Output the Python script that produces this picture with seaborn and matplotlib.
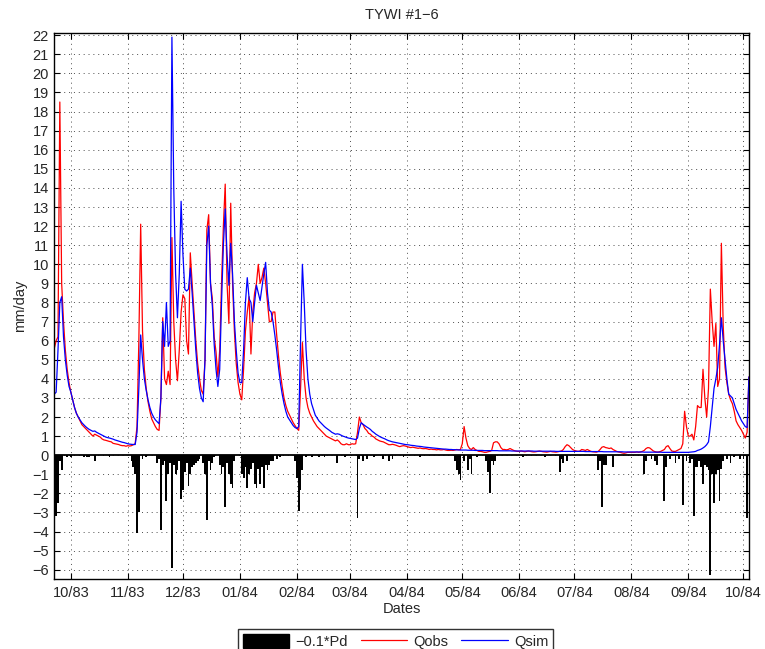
import pandas as pd
import seaborn as sns
import matplotlib
matplotlib.use("Agg")
import matplotlib.pyplot as plt
import matplotlib.dates as mdates
from matplotlib.patches import Patch
from matplotlib.lines import Line2D

# daily series start on 22 Sep 1983
START = "1983-09-22"

# observed flow (mm/day), one list per month
qobs_sep83 = [5.6, 6.0, 6.2, 18.5, 9.0, 7.0, 5.5, 4.5, 3.8]
qobs_oct83 = [3.3, 2.9, 2.5, 2.2, 2.0, 1.8, 1.6, 1.5, 1.4, 1.3,
              1.2, 1.1, 1.0, 1.1, 1.05, 1.0, 0.95, 0.85, 0.8, 0.78,
              0.75, 0.72, 0.7, 0.62, 0.6, 0.58, 0.56, 0.52, 0.5, 0.5, 0.47]
qobs_nov83 = [0.5, 0.48, 0.5, 0.55, 0.6, 1.5, 6.0, 12.1, 6.5, 4.5,
              3.5, 2.8, 2.3, 1.9, 1.7, 1.5, 1.35, 1.3, 3.0, 7.2,
              4.0, 3.7, 4.4, 3.7, 11.4, 7.0, 5.0, 3.9, 5.5, 7.5]
qobs_dec83 = [8.4, 8.2, 6.0, 5.3, 10.6, 9.0, 7.5, 6.0, 4.8, 4.0,
              3.4, 3.2, 5.0, 11.8, 12.6, 9.0, 8.2, 6.2, 5.4, 4.1,
              5.5, 9.0, 12.0, 14.2, 9.0, 6.9, 13.2, 9.0, 6.5, 4.8, 3.8]
qobs_jan84 = [3.2, 2.9, 4.5, 6.5, 7.5, 8.3, 5.3, 7.5, 8.5, 9.0,
              10.0, 9.0, 9.3, 9.8, 9.0, 8.0, 7.0, 7.0, 7.5, 7.5,
              6.3, 5.2, 4.3, 3.6, 3.0, 2.6, 2.3, 2.1, 1.9, 1.7, 1.55]
qobs_feb84 = [1.4, 1.3, 3.5, 5.9, 4.0, 3.0, 2.5, 2.2, 2.0, 1.8,
              1.65, 1.5, 1.4, 1.3, 1.2, 1.1, 1.0, 0.95, 0.9, 0.85,
              0.8, 0.75, 0.8, 0.72, 0.6, 0.55, 0.55, 0.6, 0.55]
qobs_mar84 = [0.55, 0.6, 0.58, 0.6, 1.2, 2.0, 1.7, 1.6, 1.4, 1.3,
              1.15, 1.1, 1.0, 0.95, 0.85, 0.8, 0.75, 0.72, 0.7, 0.65,
              0.6, 0.55, 0.55, 0.57, 0.55, 0.52, 0.48, 0.45, 0.48, 0.5, 0.48]
qobs_apr84 = [0.45, 0.42, 0.4, 0.42, 0.4, 0.38, 0.36, 0.38, 0.35, 0.34,
              0.35, 0.33, 0.3, 0.32, 0.3, 0.3, 0.28, 0.3, 0.28, 0.28,
              0.3, 0.27, 0.25, 0.25, 0.26, 0.25, 0.27, 0.3, 0.28, 0.3]
qobs_may84 = [0.6, 1.5, 0.9, 0.5, 0.35, 0.3, 0.4, 0.3, 0.25, 0.2,
              0.2, 0.18, 0.15, 0.15, 0.18, 0.2, 0.25, 0.65, 0.7, 0.7,
              0.6, 0.4, 0.3, 0.3, 0.28, 0.3, 0.35, 0.3, 0.25, 0.22, 0.2]
qobs_jun84 = [0.2, 0.22, 0.2, 0.18, 0.2, 0.22, 0.2, 0.18, 0.17, 0.18,
              0.2, 0.22, 0.2, 0.18, 0.17, 0.16, 0.18, 0.2, 0.18, 0.17,
              0.16, 0.18, 0.2, 0.22, 0.3, 0.45, 0.55, 0.5, 0.4, 0.3]
qobs_jul84 = [0.25, 0.22, 0.2, 0.22, 0.3, 0.28, 0.25, 0.3, 0.25, 0.2,
              0.18, 0.17, 0.16, 0.2, 0.3, 0.42, 0.45, 0.4, 0.38, 0.35,
              0.38, 0.3, 0.25, 0.2, 0.17, 0.15, 0.12, 0.1, 0.12, 0.15, 0.15]
qobs_aug84 = [0.15, 0.15, 0.15, 0.17, 0.15, 0.17, 0.2, 0.25, 0.35, 0.4,
              0.38, 0.3, 0.22, 0.18, 0.16, 0.17, 0.2, 0.25, 0.3, 0.45,
              0.5, 0.35, 0.22, 0.2, 0.2, 0.25, 0.3, 0.35, 0.6, 2.3, 1.5]
qobs_sep84 = [1.0, 1.0, 1.1, 0.8, 1.5, 2.6, 2.5, 2.5, 4.5, 3.0,
              2.0, 3.5, 8.7, 7.0, 5.7, 6.9, 3.6, 4.0, 11.1, 6.8,
              4.6, 3.8, 3.2, 2.9, 2.7, 2.3, 1.8, 1.6, 1.45, 1.3]
qobs_oct84 = [1.1, 0.9, 1.2, 4.1]

# simulated flow (mm/day)
qsim_sep83 = [3.2, 3.3, 5.5, 8.0, 8.3, 6.2, 5.0, 4.2, 3.6]
qsim_oct83 = [3.3, 2.9, 2.5, 2.2, 2.0, 1.85, 1.7, 1.6, 1.5, 1.42,
              1.35, 1.3, 1.25, 1.27, 1.2, 1.15, 1.1, 1.05, 1.0, 0.95,
              0.92, 0.9, 0.87, 0.84, 0.8, 0.77, 0.74, 0.71, 0.68, 0.66, 0.63]
qsim_nov83 = [0.6, 0.58, 0.57, 0.56, 0.56, 1.2, 3.5, 6.3, 5.0, 4.0,
              3.4, 2.9, 2.5, 2.2, 2.0, 1.85, 1.75, 1.65, 3.0, 7.0,
              5.7, 8.0, 5.7, 6.0, 21.9, 14.0, 9.5, 7.2, 9.5, 13.3]
qsim_dec83 = [10.5, 8.7, 8.6, 8.7, 9.8, 8.5, 7.0, 5.5, 4.3, 3.5,
              3.0, 2.8, 5.0, 11.0, 12.0, 9.0, 7.8, 5.8, 4.5, 3.6,
              4.5, 8.0, 11.0, 12.9, 10.5, 8.9, 11.1, 9.5, 7.0, 5.5, 4.3]
qsim_jan84 = [3.8, 3.8, 5.5, 8.0, 9.3, 8.2, 8.0, 7.0, 8.0, 8.9,
              8.5, 8.1, 8.8, 9.5, 10.1, 8.5, 7.6, 7.5, 7.0, 6.3,
              5.5, 4.6, 3.8, 3.2, 2.7, 2.3, 2.0, 1.85, 1.7, 1.55, 1.45]
qsim_feb84 = [1.4, 1.5, 6.0, 10.0, 8.0, 5.5, 4.0, 3.2, 2.7, 2.4,
              2.1, 1.95, 1.8, 1.7, 1.6, 1.5, 1.42, 1.35, 1.28, 1.2,
              1.15, 1.1, 1.12, 1.1, 1.05, 1.0, 0.97, 0.93, 0.9]
qsim_mar84 = [0.88, 0.86, 0.84, 0.82, 0.9, 1.4, 1.7, 1.62, 1.55, 1.48,
              1.42, 1.35, 1.25, 1.18, 1.1, 1.04, 0.98, 0.93, 0.89, 0.85,
              0.8, 0.76, 0.73, 0.7, 0.68, 0.66, 0.64, 0.62, 0.6, 0.58, 0.56]
qsim_apr84 = [0.55, 0.54, 0.52, 0.51, 0.5, 0.48, 0.47, 0.46, 0.45, 0.43,
              0.42, 0.41, 0.4, 0.39, 0.38, 0.37, 0.36, 0.35, 0.34, 0.33,
              0.32, 0.32, 0.31, 0.3, 0.3, 0.29, 0.29, 0.28, 0.28, 0.27]
qsim_may84 = [0.27, 0.27, 0.27, 0.26, 0.26, 0.26, 0.26, 0.25, 0.25, 0.25,
              0.25, 0.25, 0.24, 0.24, 0.24, 0.24, 0.24, 0.24, 0.24, 0.24,
              0.23, 0.23, 0.23, 0.23, 0.23, 0.23, 0.23, 0.22, 0.22, 0.22, 0.22]
qsim_jun84 = [0.22, 0.22, 0.22, 0.22, 0.22, 0.22, 0.22, 0.22, 0.21, 0.21,
              0.21, 0.21, 0.21, 0.21, 0.21, 0.21, 0.21, 0.21, 0.21, 0.21,
              0.2, 0.2, 0.2, 0.2, 0.2, 0.2, 0.2, 0.2, 0.2, 0.2]
qsim_jul84 = [0.2, 0.2, 0.2, 0.2, 0.2, 0.2, 0.19, 0.19, 0.19, 0.19,
              0.19, 0.19, 0.19, 0.19, 0.19, 0.19, 0.18, 0.18, 0.18, 0.18,
              0.18, 0.18, 0.18, 0.18, 0.18, 0.18, 0.18, 0.17, 0.17, 0.17, 0.17]
qsim_aug84 = [0.17, 0.17, 0.17, 0.17, 0.17, 0.17, 0.17, 0.16, 0.16, 0.16,
              0.16, 0.16, 0.16, 0.16, 0.16, 0.16, 0.16, 0.15, 0.15, 0.15,
              0.15, 0.15, 0.15, 0.15, 0.15, 0.15, 0.15, 0.15, 0.15, 0.15, 0.15]
qsim_sep84 = [0.15, 0.16, 0.17, 0.18, 0.2, 0.25, 0.28, 0.32, 0.38, 0.45,
              0.55, 0.7, 1.5, 2.5, 3.5, 4.0, 4.6, 5.8, 7.2, 6.0,
              5.0, 4.0, 3.2, 3.1, 3.0, 2.7, 2.4, 2.2, 2.0, 1.8]
qsim_oct84 = [1.65, 1.5, 1.45, 4.1]

# rain shown as -0.1*Pd, day offsets counted from 1 Oct 1983
pd_day = [-9, -8, -7, -6, -5, -2, 0, 7, 9, 10, 13, 21, 33, 34, 35, 36, 37, 39, 41,
          47, 48, 49, 50, 51, 52, 53, 54, 55, 56, 57, 58, 59, 60, 61, 62, 63, 64,
          65, 66, 67, 68, 69, 70, 72, 73, 74, 75, 76, 77, 78, 81, 82, 83, 84, 85,
          86, 87, 88, 89, 93, 94, 95, 96, 97, 98, 99, 100, 101, 102, 103, 104,
          105, 106, 107, 108, 109, 110, 112, 114, 122, 123, 124, 125, 126, 128,
          131, 135, 138, 145, 149, 156, 157, 159, 161, 165, 170, 173, 175, 181,
          190, 209, 210, 211, 212, 214, 216, 217, 218, 221, 226, 227, 228, 229,
          230, 231, 246, 258, 266, 267, 268, 270, 287, 288, 289, 290, 291, 295,
          312, 313, 316, 318, 319, 323, 324, 326, 329, 331, 333, 335, 337, 338,
          339, 340, 341, 342, 343, 344, 345, 346, 347, 348, 349, 350, 351, 352,
          353, 354, 355, 357, 359, 361, 364, 366, 368]
pd_val = [-0.7, -3.2, -2.5, -0.3, -0.8, -0.1, -0.1, -0.1, -0.1, -0.1, -0.3, -0.1,
          -0.3, -0.6, -1.0, -4.1, -3.0, -0.2, -0.1,
          -0.4, -0.2, -3.9, -0.5, -0.3, -2.4, -1.0, -0.4, -5.9, -0.5, -1.0, -0.8,
          -0.3, -2.3, -1.8, -0.9, -0.4, -1.6, -1.0, -0.6, -0.5, -0.4, -0.3, -0.2,
          -0.4, -1.0, -3.4, -0.3, -0.8, -0.4, -0.1, -0.5, -1.0, -0.6, -2.7, -0.4,
          -1.0, -1.5, -1.7, -0.3, -1.0, -1.2, -0.6, -1.7, -1.0, -0.7, -0.4, -1.5,
          -1.7, -0.7, -1.5, -0.6, -1.7, -0.5, -0.8, -0.5, -0.3, -0.3, -0.2, -0.1,
          -0.3, -1.2, -2.9, -1.8, -0.8, -0.1, -0.1, -0.1, -0.1, -0.4, -0.1,
          -3.3, -0.2, -0.3, -0.2, -0.1, -0.2, -0.3, -0.2, -0.1, -0.1,
          -0.3, -0.8, -1.0, -1.3, -0.3, -0.8, -0.2, -1.0, -0.1, -0.3, -0.9, -2.0,
          -0.3, -0.5, -0.3, -0.1, -0.1, -0.9, -0.2, -0.4, -0.3,
          -0.8, -0.3, -2.7, -0.5, -0.5, -0.6,
          -1.0, -0.3, -0.2, -0.3, -0.5, -2.4, -0.6, -0.2, -0.4, -0.2, -2.6, -0.3,
          -0.4, -0.2, -3.2, -0.6, -0.6, -0.3, -0.6, -1.5, -0.5, -0.6, -0.8, -6.3,
          -1.0, -2.5, -1.0, -0.8, -2.4, -0.7, -0.3, -0.2, -0.4, -0.1, -0.2, -0.2,
          -3.3]

qobs = (qobs_sep83 + qobs_oct83 + qobs_nov83 + qobs_dec83 + qobs_jan84 + qobs_feb84
        + qobs_mar84 + qobs_apr84 + qobs_may84 + qobs_jun84 + qobs_jul84
        + qobs_aug84 + qobs_sep84 + qobs_oct84)
qsim = (qsim_sep83 + qsim_oct83 + qsim_nov83 + qsim_dec83 + qsim_jan84 + qsim_feb84
        + qsim_mar84 + qsim_apr84 + qsim_may84 + qsim_jun84 + qsim_jul84
        + qsim_aug84 + qsim_sep84 + qsim_oct84)

dates = pd.date_range(START, periods=len(qobs), freq="D")
df = pd.DataFrame({"date": dates, "Qobs": qobs, "Qsim": qsim})
rain = pd.DataFrame({
    "date": pd.Timestamp("1983-10-01") + pd.to_timedelta(pd_day, unit="D"),
    "val": pd_val,
})

sns.set_style("ticks")
plt.rcParams["font.family"] = ["Liberation Sans", "DejaVu Sans"]
FS = 10.5

fig = plt.figure(figsize=(7.65, 6.49), dpi=100)
ax = fig.add_axes([0.071, 0.1074, 0.908, 0.8413])

ax.bar(rain["date"], rain["val"], width=1.0, color="black", linewidth=0)
sns.lineplot(data=df, x="date", y="Qobs", color="red", lw=0.9, ax=ax)
sns.lineplot(data=df, x="date", y="Qsim", color="blue", lw=0.9, ax=ax)
ax.axhline(0, color="black", lw=1.3, zorder=1)

ax.set_xlim(dates[0], dates[-1])
ax.set_ylim(-6.5, 22.1)
ax.set_yticks(range(-6, 23))
ax.xaxis.set_major_locator(mdates.MonthLocator())
ax.xaxis.set_major_formatter(mdates.DateFormatter("%m/%y"))
ax.grid(True, linestyle=(0, (1, 4)), color="0.3", lw=0.7)
ax.tick_params(direction="in", top=True, right=True, labelsize=FS, length=4,
               width=0.8, color="black")
ax.tick_params(axis="x", pad=5)
ax.tick_params(axis="y", pad=4)
for s in ax.spines.values():
    s.set_linewidth(1.0)
    s.set_color("black")

ax.set_title("TYWI #1\u22126", fontsize=FS, pad=10)
ax.set_xlabel("Dates", fontsize=FS, labelpad=1)
ax.set_ylabel("mm/day", fontsize=FS, labelpad=4)

handles = [Patch(facecolor="black", edgecolor="black"),
           Line2D([], [], color="red", lw=0.9),
           Line2D([], [], color="blue", lw=0.9)]
leg = fig.legend(handles, ["\u22120.1*Pd", "Qobs", "Qsim"], loc="upper center",
                 bbox_to_anchor=(0.517, 0.042), ncol=3, fontsize=FS,
                 frameon=True, fancybox=False, edgecolor="black",
                 handlelength=3.2, handleheight=1.1, handletextpad=0.4,
                 columnspacing=0.9, borderpad=0.35)
leg.get_frame().set_linewidth(1.0)

fig.savefig("out.png", dpi=100)
